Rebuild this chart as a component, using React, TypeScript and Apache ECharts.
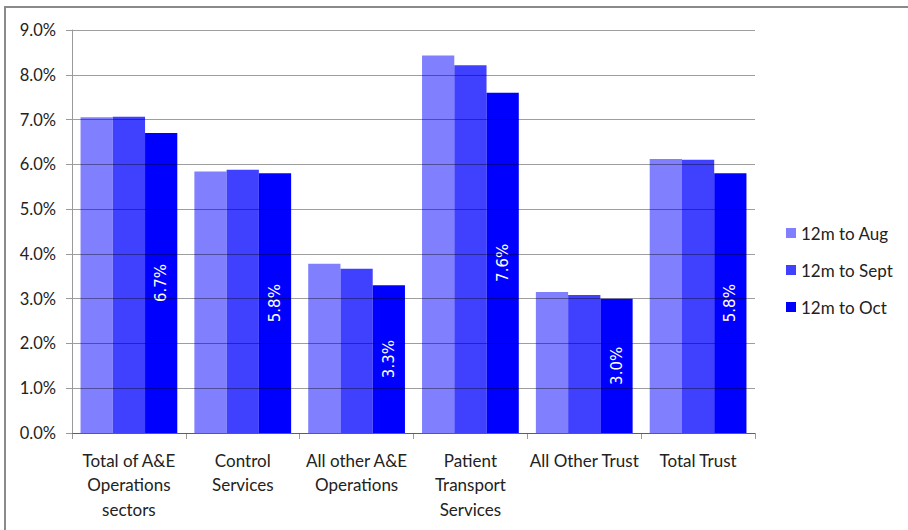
import React, { useEffect, useRef } from "react";
import * as echarts from "echarts";

const categories = [
  "Total of A&E\nOperations\nsectors",
  "Control\nServices",
  "All other A&E\nOperations",
  "Patient\nTransport\nServices",
  "All Other Trust",
  "Total Trust",
];

const seriesNames = ["12m to Aug", "12m to Sept", "12m to Oct"];
const seriesColors = ["#8080FF", "#4040FF", "#0000FF"];

const aug = [7.05, 5.84, 3.78, 8.43, 3.15, 6.12];
const sept = [7.06, 5.88, 3.67, 8.21, 3.08, 6.1];
const oct = [6.7, 5.8, 3.3, 7.6, 3.0, 5.8];

const yTicks = { min: 0, max: 9, interval: 1 };

const FONT = "Lato, 'Open Sans', sans-serif";

export default function App() {
  const ref = useRef<HTMLDivElement>(null);

  useEffect(() => {
    if (!ref.current) return;
    const chart = echarts.init(ref.current, null, { renderer: "svg" });
    const values = [aug, sept, oct];
    chart.setOption({
      animation: false,
      textStyle: { fontFamily: FONT },
      grid: { left: 72, right: 153, top: 30, bottom: 97 },
      legend: {
        orient: "vertical",
        left: 781,
        top: 219,
        itemWidth: 10,
        itemHeight: 10,
        itemGap: 19,
        icon: "rect",
        data: seriesNames,
        textStyle: { fontFamily: FONT, fontSize: 17, color: "#222", lineHeight: 18 },
      },
      xAxis: {
        type: "category",
        data: categories,
        axisLine: { lineStyle: { color: "#9a9a9a", width: 1 } },
        axisTick: { show: true, length: 6, alignWithLabel: false, lineStyle: { color: "#9a9a9a" } },
        axisLabel: {
          interval: 0,
          margin: 15,
          fontFamily: FONT,
          fontSize: 17,
          lineHeight: 24.5,
          color: "#222",
        },
      },
      yAxis: {
        type: "value",
        min: yTicks.min,
        max: yTicks.max,
        interval: yTicks.interval,
        z: 3,
        axisLine: { show: true, lineStyle: { color: "#9a9a9a" } },
        axisTick: { show: true, length: 6, lineStyle: { color: "#9a9a9a" } },
        splitLine: { show: true, lineStyle: { color: "rgba(0,0,0,0.38)", width: 1 } },
        axisLabel: {
          margin: 16,
          fontFamily: FONT,
          fontSize: 16.5,
          color: "#222",
          formatter: (v: number) => v.toFixed(1) + "%",
        },
      },
      series: seriesNames.map((name, i) => ({
        name,
        type: "bar",
        data: values[i],
        barGap: "0%",
        barCategoryGap: "15%",
        itemStyle: { color: seriesColors[i] },
        label:
          i === 2
            ? {
                show: true,
                position: "inside",
                rotate: 90,
                color: "#ffffff",
                fontFamily: "'DejaVu Sans', sans-serif",
                fontSize: 15,
                formatter: (p: any) => Number(p.value).toFixed(1) + "%",
              }
            : { show: false },
      })),
    });
    return () => chart.dispose();
  }, []);

  return (
    <div
      style={{
        position: "fixed",
        left: 0,
        top: 0,
        width: 908,
        height: 530,
        overflow: "hidden",
        background: "#ffffff",
      }}
    >
      {/* frame: top and left edges of the box around the chart */}
      <div
        style={{
          position: "absolute",
          left: 4,
          top: 6,
          width: 930,
          height: 560,
          borderTop: "2px solid #8a8a8a",
          borderLeft: "2px solid #8a8a8a",
          boxSizing: "border-box",
        }}
      />
      <div ref={ref} style={{ position: "absolute", left: 0, top: 0, width: 908, height: 530 }} />
    </div>
  );
}
